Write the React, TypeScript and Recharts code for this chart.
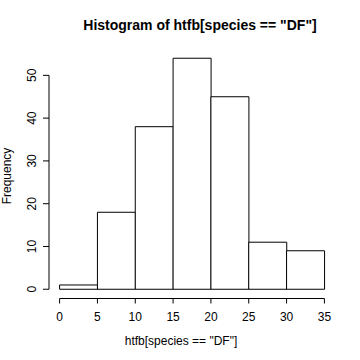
import { Bar, ComposedChart, Customized, ReferenceLine, XAxis, YAxis } from "recharts";

const binStarts = [0, 5, 10, 15, 20, 25, 30];
const binWidth = 5;
const counts = [1, 18, 38, 54, 45, 11, 9];
const xTicks = [0, 5, 10, 15, 20, 25, 30, 35];
const yTicks = [0, 10, 20, 30, 40, 50];

const title = 'Histogram of htfb[species == "DF"]';
const xLabel = 'htfb[species == "DF"]';
const yLabel = "Frequency";

const data = binStarts.map((s, i) => ({ mid: s + binWidth / 2, count: counts[i] }));

// R pads both axis ranges by 4%
const xMin = -1.4;
const xMax = 36.4;
const yMin = -2.16;
const yMax = 56.16;

const font = "'Liberation Sans', Arial, Helvetica, sans-serif";

function YTick(props: any) {
  const { x, y, payload } = props;
  const tx = x - 5;
  return (
    <text
      x={tx}
      y={y}
      transform={`rotate(-90, ${tx}, ${y})`}
      textAnchor="middle"
      fontSize={12}
      fontFamily={font}
      fill="#000"
    >
      {payload.value}
    </text>
  );
}

function Titles() {
  return (
    <g fontFamily={font} fill="#000">
      <text x={200} y={30} textAnchor="middle" fontSize={14} fontWeight="bold">
        {title}
      </text>
      <text x={181} y={345} textAnchor="middle" fontSize={12}>
        {xLabel}
      </text>
      <text
        x={10.5}
        y={176}
        transform="rotate(-90, 10.5, 176)"
        textAnchor="middle"
        fontSize={12}
      >
        {yLabel}
      </text>
    </g>
  );
}

export default function App() {
  return (
    <div style={{ position: "fixed", left: 0, top: 0, background: "#fff" }}>
      <ComposedChart
        width={360}
        height={360}
        data={data}
        margin={{ top: 49, right: 25, bottom: 0, left: 0 }}
        barCategoryGap={0}
        barGap={0}
      >
        <XAxis
          dataKey="mid"
          type="number"
          domain={[xMin, xMax]}
          ticks={xTicks}
          interval={0}
          allowDataOverflow
          axisLine={false}
          tickLine={{ stroke: "#000" }}
          tickSize={5}
          tickMargin={9}
          height={61.5}
          tick={{ fill: "#000", fontSize: 12, fontFamily: font }}
        />
        <YAxis
          type="number"
          domain={[yMin, yMax]}
          ticks={yTicks}
          interval={0}
          allowDataOverflow
          axisLine={false}
          tickLine={{ stroke: "#000" }}
          tickSize={6}
          tickMargin={2}
          width={49}
          tick={<YTick />}
        />
        <Bar
          dataKey="count"
          fill="#fff"
          stroke="#000"
          strokeWidth={1}
          isAnimationActive={false}
        />
        <ReferenceLine
          segment={[
            { x: xTicks[0], y: yMin },
            { x: xTicks[xTicks.length - 1], y: yMin },
          ]}
          stroke="#000"
          ifOverflow="visible"
        />
        <ReferenceLine
          segment={[
            { x: xMin, y: yTicks[0] },
            { x: xMin, y: yTicks[yTicks.length - 1] },
          ]}
          stroke="#000"
          ifOverflow="visible"
        />
        <Customized component={Titles} />
      </ComposedChart>
    </div>
  );
}
